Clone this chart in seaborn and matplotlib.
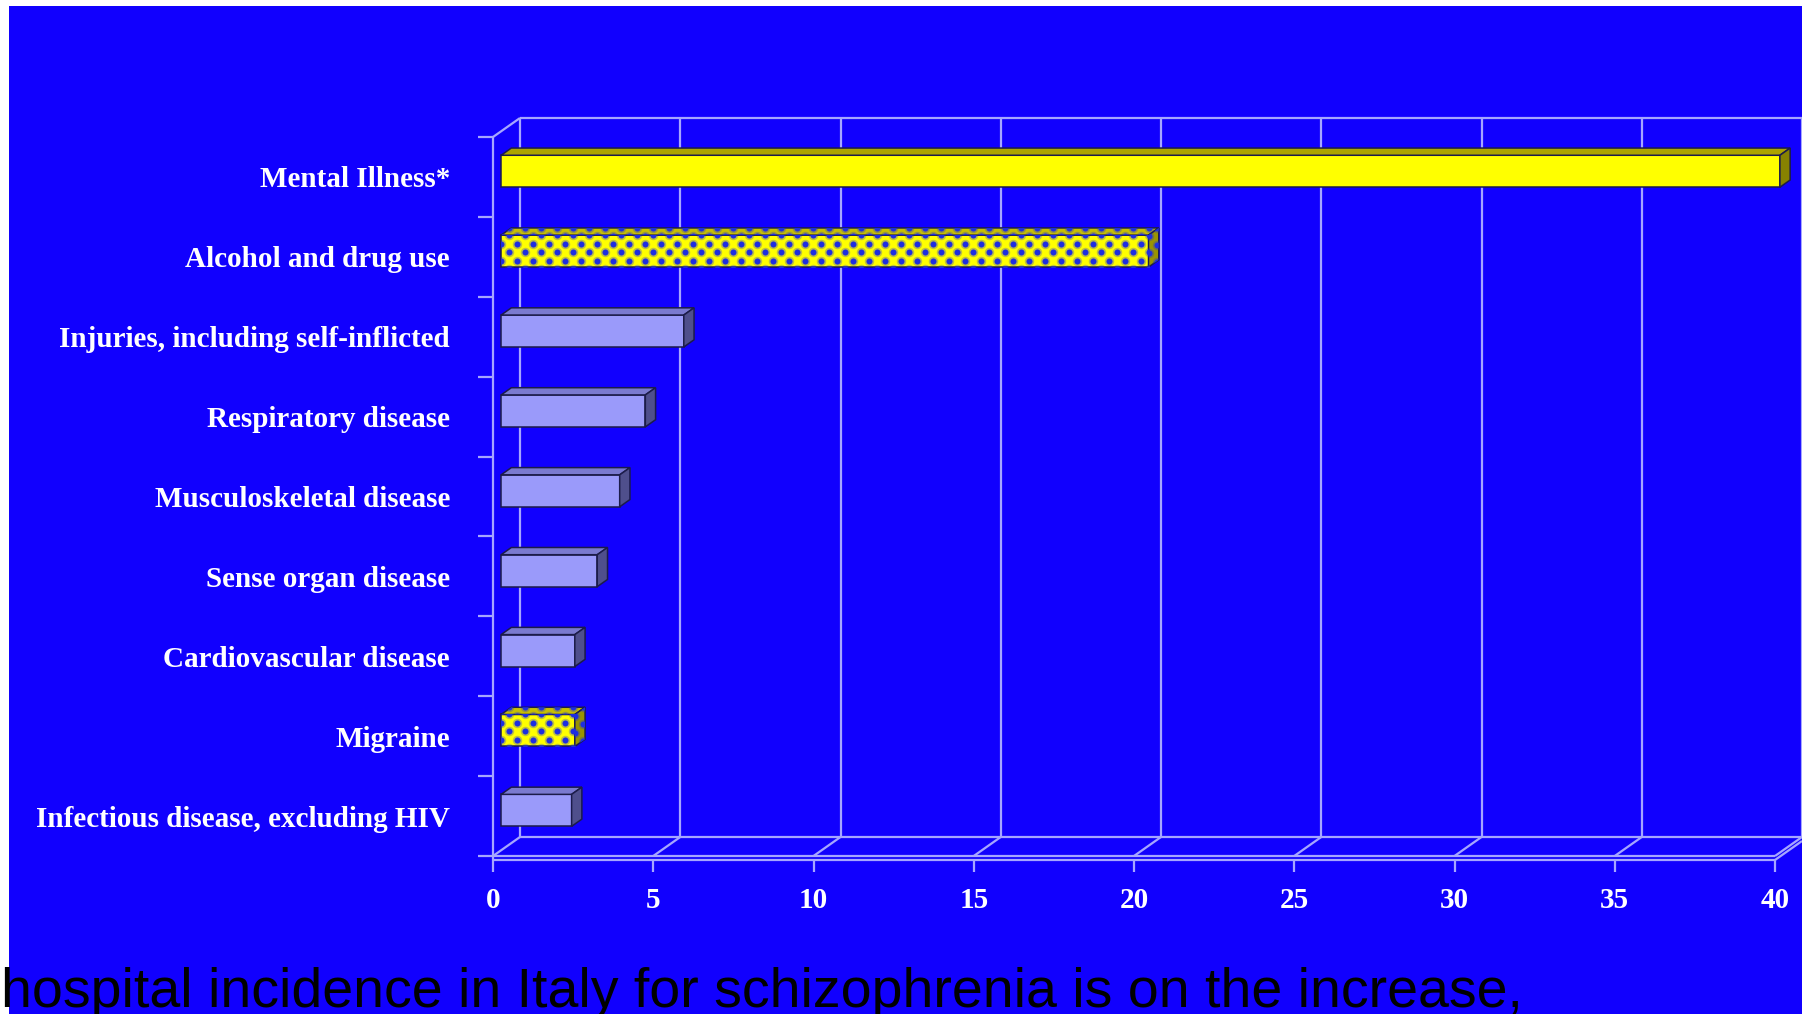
import matplotlib
matplotlib.use("Agg")
import matplotlib.pyplot as plt
import seaborn as sns
import pandas as pd
import numpy as np
from matplotlib.patches import Polygon, Rectangle

# ---- data -------------------------------------------------------------
categories = [
    "Mental Illness*",
    "Alcohol and drug use",
    "Injuries, including self-inflicted",
    "Respiratory disease",
    "Musculoskeletal disease",
    "Sense organ disease",
    "Cardiovascular disease",
    "Migraine",
    "Infectious disease, excluding HIV",
]
values = [39.9, 20.2, 5.7, 4.5, 3.7, 3.0, 2.3, 2.3, 2.2]
bar_styles = ["yellow", "dotted", "lavender", "lavender", "lavender",
              "lavender", "lavender", "dotted", "lavender"]
x_ticks = [0, 5, 10, 15, 20, 25, 30, 35, 40]
caption = "hospital incidence in Italy for schizophrenia is on the increase,"

# ---- colours ----------------------------------------------------------
BLUE = "#1100fe"
GRID = "#a6a6ff"
EDGE = "#1c1c4a"
DOT = "#1e2ee0"
FACES = {
    "yellow":   ("#ffff00", "#aca400", "#878200"),
    "dotted":   ("#ffff00", "#c8c000", "#9a9400"),
    "lavender": ("#9a9afa", "#7a7ad0", "#4f4f8c"),
}

W, H = 1802, 1014
fig = plt.figure(figsize=(W / 100, H / 100), dpi=100)
fig.patch.set_facecolor("white")
fig.add_artist(Rectangle((9 / W, 0), 1 - 9 / W, 1 - 6 / H,
                         transform=fig.transFigure, facecolor=BLUE,
                         edgecolor="none", zorder=0))

ax = fig.add_axes([493 / W, 1 - 856 / H, 1282 / W, 719 / H])
ax.set_facecolor("none")

df = pd.DataFrame({"cause": categories, "value": values, "style": bar_styles})
front_palette = {c: FACES[s][0] for c, s in zip(categories, bar_styles)}
sns.barplot(data=df, x="value", y="cause", hue="cause", palette=front_palette,
            legend=False, width=0.40, saturation=1, edgecolor=EDGE,
            linewidth=1.1, ax=ax, zorder=4)

ax.set_xlim(0, 40)
ax.set_ylim(len(categories) - 0.5, -0.5)
for s in ax.spines.values():
    s.set_visible(False)

# pixel -> data conversions (y axis runs downward)
p0 = ax.transData.transform((0, 0))
p1 = ax.transData.transform((1, 1))
ppx = p1[0] - p0[0]
ppy = p0[1] - p1[1]


def px_x(n):
    return n / ppx


def px_y(n):
    return n / ppy


# full depth of the box: right and up
DX, DY = px_x(27), -px_y(19)
y_top, y_bot = -0.5, len(categories) - 0.5
line_kw = dict(color=GRID, lw=1.6, clip_on=False, zorder=1,
               solid_capstyle="butt")

# back wall grid
for t in x_ticks:
    ax.plot([t + DX, t + DX], [y_bot + DY, y_top + DY], **line_kw)
ax.plot([DX, 40 + DX], [y_top + DY, y_top + DY], **line_kw)
# left wall
ax.plot([0, DX], [y_top, y_top + DY], **line_kw)
ax.plot([0, 0], [y_top, y_bot + px_y(4)], **line_kw)
for b in np.arange(y_top, y_bot + 0.01, 1.0):
    ax.plot([-px_x(15), 0], [b, b], **line_kw)
# floor
ax.plot([DX, 40 + DX], [y_bot + DY, y_bot + DY], **line_kw)
for off in (0, px_y(4)):
    ax.plot([0, 40], [y_bot + off, y_bot + off], **line_kw)
for t in x_ticks:
    ax.plot([t, t + DX], [y_bot, y_bot + DY], **line_kw)
    ax.plot([t, t], [y_bot + px_y(4), y_bot + px_y(16)], **line_kw)
ax.plot([40, 40 + DX], [y_bot + px_y(4), y_bot + px_y(4) + DY], **line_kw)

# ---- bars: front faces moved into the box, plus top and side faces ------
fx, fy = 0.30 * DX, 0.30 * DY
bx, by = 0.38 * DX, 0.38 * DY
bars = sorted(ax.patches, key=lambda p: p.get_y())


def dot_texture(face, xmin, xmax, ymin, ymax):
    """Staggered blue dots clipped to one face of a patterned bar."""
    sx, sy = px_x(16), px_y(8.5)
    rows = np.arange(ymin - sy, ymax + sy, sy)
    xs, ys = [], []
    for k, yy in enumerate(rows):
        start = xmin - sx + (sx / 2 if k % 2 else 0)
        for xx in np.arange(start, xmax + sx, sx):
            xs.append(xx)
            ys.append(yy)
    z = face.get_zorder() + 0.1
    halo = ax.scatter(xs, ys, s=46, c=DOT, alpha=0.3, linewidths=0, zorder=z)
    core = ax.scatter(xs, ys, s=19, c=DOT, linewidths=0, zorder=z + 0.01)
    halo.set_clip_path(face)
    core.set_clip_path(face)


for p, style in zip(bars, bar_styles):
    front, top_c, side_c = FACES[style]
    x0 = p.get_x() + fx
    y0 = p.get_y() + fy
    w, h = p.get_width(), p.get_height()
    p.set_x(x0)
    p.set_y(y0)
    p.set_clip_on(False)
    top = Polygon([(x0, y0), (x0 + w, y0), (x0 + w + bx, y0 + by), (x0 + bx, y0 + by)],
                  closed=True, facecolor=top_c, edgecolor=EDGE, lw=1.1,
                  zorder=4, clip_on=False)
    side = Polygon([(x0 + w, y0), (x0 + w + bx, y0 + by), (x0 + w + bx, y0 + h + by),
                    (x0 + w, y0 + h)], closed=True, facecolor=side_c,
                   edgecolor=EDGE, lw=1.1, zorder=4, clip_on=False)
    ax.add_patch(top)
    ax.add_patch(side)
    if style == "dotted":
        dot_texture(p, x0, x0 + w, y0, y0 + h)
        dot_texture(top, x0, x0 + w + bx, y0 + by, y0)
        dot_texture(side, x0 + w, x0 + w + bx, y0 + by, y0 + h)

# ---- tick labels --------------------------------------------------------
label_font = dict(family="Liberation Serif", weight="bold", size=21, color="white")
ax.set_xticks(x_ticks)
ax.set_xticklabels([str(t) for t in x_ticks], **label_font)
ax.tick_params(axis="x", length=0, pad=22)
ax.set_yticks(range(len(categories)))
ax.set_yticklabels(categories, **label_font)
ax.tick_params(axis="y", length=0, pad=31)
ax.set_xlabel("")
ax.set_ylabel("")

fig.text(0.0005, 1 - 1007 / H, caption, family="Liberation Sans", size=40,
         color="black", ha="left", va="baseline")

fig.savefig("out.png", dpi=100)
